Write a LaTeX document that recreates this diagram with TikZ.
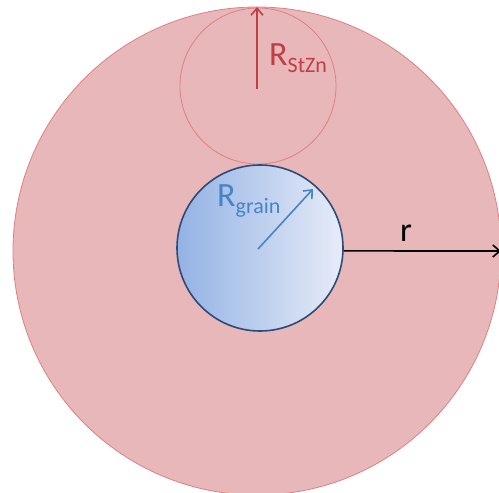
\documentclass[tikz,border=0pt]{standalone}
\usepackage{fontspec}
\setmainfont{Carlito}
\usetikzlibrary{arrows.meta}
\definecolor{zonefill}{RGB}{232,183,186}
\definecolor{zoneline}{RGB}{222,128,130}
\definecolor{stznred}{RGB}{192,62,68}
\definecolor{grainline}{RGB}{45,75,118}
\definecolor{grainleft}{RGB}{148,178,228}
\definecolor{grainright}{RGB}{230,236,248}
\definecolor{grainblue}{RGB}{72,132,196}
\newcommand{\biglbl}[2]{{\fontsize{34}{34}\selectfont #1}{\fontsize{22}{22}\selectfont\raisebox{-7pt}{#2}}}
\begin{document}
\begin{tikzpicture}[x=1pt,y=-1pt,
  radius/.style={line width=1.6pt, -{Straight Barb[length=7pt,width=12pt,line width=1.6pt]}}]
\useasboundingbox (0,0) rectangle (499,493);
\clip (0,0) rectangle (499,493);
\node[circle, draw=zoneline, fill=zonefill, line width=0.8pt, minimum size=488pt, inner sep=0pt] (zone) at (257,251) {};
\node[circle, draw=zoneline, line width=0.8pt, minimum size=156pt, inner sep=0pt] (stzn) at (258,86) {};
\node[circle, draw=grainline, line width=1.6pt, left color=grainleft, right color=grainright, minimum size=166pt, inner sep=0pt] (grain) at (260,248) {};
\coordinate (stzntop) at (257,7);
\coordinate (stzncen) at (257,89);
\coordinate (graintip) at (313,189);
\coordinate (zoneedge) at (501,251);
\draw[radius, stznred] (stzncen) -- (stzntop);
\draw[radius, grainblue] (258,249) -- (graintip);
\draw[radius, black] (grain.-2) -- (zoneedge);
\node[text=stznred, anchor=west, inner sep=0pt] (lblstzn) at (269,58) {\biglbl{R}{StZn}};
\node[text=grainblue, anchor=west, inner sep=0pt] (lblgrain) at (217,201) {\biglbl{R}{grain}};
\node[inner sep=0pt] (lblr) at (406,233) {\fontsize{34}{34}\selectfont r};
\end{tikzpicture}
\end{document}
